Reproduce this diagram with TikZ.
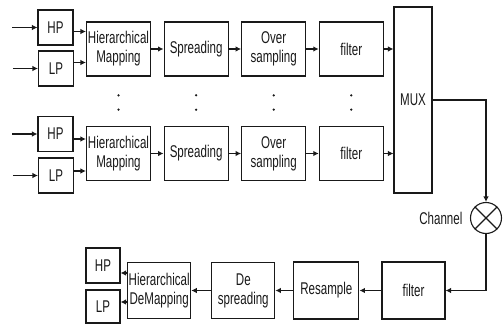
\documentclass[tikz,border=0pt]{standalone}
\usepackage{fontspec}
\setmainfont{Liberation Sans}[FakeStretch=0.68]
\usetikzlibrary{arrows.meta,positioning}

\begin{document}
\begin{tikzpicture}[
        x = 1pt, y = -1pt, % pixel grid, y pointing down
        > = {Latex[length=5.5pt,width=5.5pt]}, % arrow head style
        node distance = 12.5pt, % gap between blocks
        font = \fontsize{17}{19}\selectfont,
        color = black!90
    ]

    \tikzstyle{block}=[
        draw,
        line width = 1.1pt,
        align = center,
        inner sep = 1pt,
        minimum width = 64pt,
        minimum height = 54pt
    ]
    \tikzstyle{port}=[block, minimum width = 35pt, minimum height = 35pt]
    \tikzstyle{arr}=[->, line width = 1.8pt]
    \tikzstyle{dot}=[circle, fill, inner sep = 0pt, minimum size = 2.5pt]

    \useasboundingbox (0,0) rectangle (503,324);

    % first branch
    \node[block] (hm1) at (118.5,49) {Hierarchical\\Mapping};
    \node[block] (spr1) [right=of hm1] {Spreading};
    \node[block] (ovs1) [right=of spr1] {Over\\sampling};
    \node[block] (flt1) [right=of ovs1] {filter};
    \node[port] (hp1) at (55.5,27.5) {HP};
    \node[port] (lp1) at (56,68.5) {LP};

    % second branch
    \node[block] (hm2) at (118.5,153.5) {Hierarchical\\Mapping};
    \node[block] (spr2) [right=of hm2] {Spreading};
    \node[block] (ovs2) [right=of spr2] {Over\\sampling};
    \node[block] (flt2) [right=of ovs2] {filter};
    \node[port] (hp2) at (55.5,134) {HP};
    \node[port] (lp2) at (56,175.5) {LP};

    \node[block, minimum width = 38pt, minimum height = 186pt] (mux) at (413,100) {MUX};

    % channel
    \node[circle, draw, line width = 1.1pt, minimum size = 31pt, inner sep = 0pt] (mix) at (486,218) {};
    \draw[line width = 1.1pt] (mix.north west) -- (mix.south east)
                              (mix.north east) -- (mix.south west);
    \node (chl) [left=4pt of mix] {Channel};

    % receiver
    \node[block, minimum width = 63pt, minimum height = 57pt] (fltb) at (413.5,290.5) {filter};
    \node[block, minimum width = 65pt, minimum height = 57pt] (rsm) [left=22pt of fltb] {Resample};
    \node[block, minimum width = 63pt, minimum height = 56pt] (desp) [left=18pt of rsm] {De\\spreading};
    \node[block, minimum width = 61pt, minimum height = 56pt] (hdm) [left=20pt of desp] {Hierarchical\\DeMapping};
    \node[port, minimum width = 34pt] (hpb) at (103,265.5) {HP};
    \node[port, minimum width = 34pt, minimum height = 33pt] (lpb) at (103,306.5) {LP};

    % dots between branches
    \path (hm1) -- (hm2) node[dot, pos=.38] {} node[dot, pos=.67] {};
    \path (spr1) -- (spr2) node[dot, pos=.38] {} node[dot, pos=.67] {};
    \path (ovs1) -- (ovs2) node[dot, pos=.38] {} node[dot, pos=.67] {};
    \path (flt1) -- (flt2) node[dot, pos=.38] {} node[dot, pos=.67] {};

    % inputs
    \coordinate (inhp1) at ([xshift=-25pt]hp1.west);
    \coordinate (inlp1) at ([xshift=-25pt]lp1.west);
    \coordinate (inhp2) at ([xshift=-25pt]hp2.west);
    \coordinate (inlp2) at ([xshift=-25pt]lp2.west);
    \draw[arr] (inhp1) -- (hp1);
    \draw[arr] (inlp1) -- (lp1);
    \draw[arr] (inhp2) -- (hp2);
    \draw[arr] (inlp2) -- (lp2);

    \coordinate (hpo1) at ([yshift=-4pt]hp1.east);
    \coordinate (lpo1) at ([yshift=6pt]lp1.east);
    \coordinate (hpo2) at ([yshift=-5pt]hp2.east);
    \coordinate (lpo2) at ([yshift=4.5pt]lp2.east);
    \draw[arr] (hpo1) -- (hpo1 -| hm1.west);
    \draw[arr] (lpo1) -- (lpo1 -| hm1.west);
    \draw[arr] (hpo2) -- (hpo2 -| hm2.west);
    \draw[arr] (lpo2) -- (lpo2 -| hm2.west);

    \draw[arr] (hm1) -- (spr1);
    \draw[arr] (spr1) -- (ovs1);
    \draw[arr] (ovs1) -- (flt1);
    \draw[arr] (flt1.east) -- (flt1.east -| mux.west);
    \draw[arr] (hm2) -- (spr2);
    \draw[arr] (spr2) -- (ovs2);
    \draw[arr] (ovs2) -- (flt2);
    \draw[arr] (flt2.east) -- (flt2.east -| mux.west);

    \draw[arr] (mux.east) -| (mix.north);
    \draw[arr] (mix.south) |- (fltb.east);

    \draw[arr] (fltb) -- (rsm);
    \draw[arr] (rsm) -- (desp);
    \draw[arr] (desp) -- (hdm);
    \coordinate (hpi) at ([yshift=-7.5pt]hpb.east);
    \coordinate (lpi) at ([yshift=4.5pt]lpb.east);
    \draw[arr] (hpi -| hdm.west) -- (hpi);
    \draw[arr] (lpi -| hdm.west) -- (lpi);
\end{tikzpicture}
\end{document}
